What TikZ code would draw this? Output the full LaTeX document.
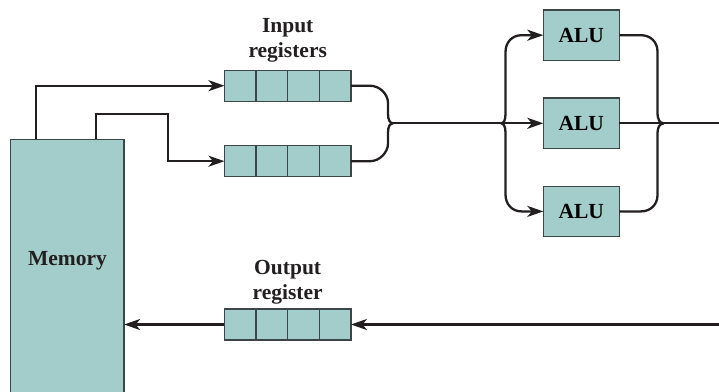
\documentclass[tikz,border=0pt]{standalone}
\usepackage{fontspec}
\setmainfont{Liberation Serif}
\usepackage{tikz}
\usetikzlibrary{arrows.meta, positioning, calc}
\definecolor{regteal}{HTML}{A2CDCB}
\definecolor{edgegray}{HTML}{3C4646}
\definecolor{wiregray}{HTML}{231F20}

\begin{document}
\begin{tikzpicture}[
  x=1pt, y=-1pt,
  font=\fontsize{21.5}{25.5}\selectfont\bfseries,
  unit/.style={rectangle, draw=edgegray, line width=1.3pt, fill=regteal,
    inner sep=0pt, outer sep=0pt},
  reg/.style={unit, minimum width=126.5pt, minimum height=31pt},
  alubox/.style={unit, minimum width=76pt, minimum height=50.5pt},
  lbl/.style={align=center, inner sep=0pt, text=wiregray},
  cellline/.style={draw=edgegray, line width=1.3pt},
  wire/.style={wiregray, line width=2.3pt},
  arr/.style={wire, -{Stealth[length=16pt, width=11pt, inset=4.5pt]}}]
  \useasboundingbox (0,0) rectangle (719,391);
  % memory and registers
  \node[unit, minimum width=113.4pt, minimum height=254pt] (mem) at (67.4,266.3) {};
  \node[lbl] (memtxt) at ([yshift=6pt]mem.center) {Memory};
  \node[reg] (in1) at (287.7,85.7) {};
  \node[reg] (in2) at (287.7,161.2) {};
  \node[reg] (out) at (287.7,324.5) {};
  \node[lbl, above=7.5pt of in1] (inlbl) {Input\\registers};
  \node[lbl, above=4.4pt of out] (outlbl) {Output\\register};
  \foreach \r in {in1,in2,out}
    \foreach \i in {1,2,3}
      \draw[cellline] ($(\r.north west)!\i/4!(\r.north east)$) -- ($(\r.south west)!\i/4!(\r.south east)$);
  % ALUs
  \node[alubox] (alu1) at (581.3,35.2) {ALU};
  \node[alubox] (alu2) at (581.3,123.3) {ALU};
  \node[alubox] (alu3) at (581.3,211.4) {ALU};
  % memory to input registers
  \coordinate (bend) at (168.3,114.3);
  \draw[arr] ([xshift=25.3pt]mem.north west) |- (in1.west);
  \draw[arr] ([xshift=85pt]mem.north west) |- (bend) |- (in2.west);
  % input registers join
  \coordinate (join) at (393,123.3);
  \coordinate (fork) at (501,123.3);
  \draw[wire] (in1.east) -- (370,85.7) .. controls (379.5,85.7) and (388,94) .. (388,103) -- (388,114)
    .. controls (388,120) and (390,123.3) .. (join);
  \draw[wire] (in2.east) -- (370,161.2) .. controls (379.5,161.2) and (388,152.5) .. (388,143.5) -- (388,132.5)
    .. controls (388,126.5) and (390,123.3) .. (join);
  \draw[wire] (join) -- (fork);
  % fork to ALUs
  \draw[arr] (fork) .. controls (503.5,123.3) and (505.5,120.5) .. (505.5,114) -- (505.5,52)
    .. controls (505.5,42.5) and (512,35.2) .. (521.5,35.2) -- (alu1.west);
  \draw[arr] (fork) -- (alu2.west);
  \draw[arr] (fork) .. controls (503.5,123.3) and (505.5,126.1) .. (505.5,132.6) -- (505.5,194.6)
    .. controls (505.5,204.1) and (512,211.4) .. (521.5,211.4) -- (alu3.west);
  % ALUs merge
  \coordinate (merge) at (664,123.3);
  \coordinate (exitR) at (719,123.3);
  \draw[wire] (alu1.east) -- (641,35.2) .. controls (650.5,35.2) and (657.5,42) .. (657.5,51.5) -- (657.5,112)
    .. controls (657.5,119.5) and (659.5,123.3) .. (merge);
  \draw[wire] (alu3.east) -- (641,211.4) .. controls (650.5,211.4) and (657.5,204.6) .. (657.5,195.1) -- (657.5,134.6)
    .. controls (657.5,127.1) and (659.5,123.3) .. (merge);
  \draw[wire] (alu2.east) -- (exitR);
  % output path
  \coordinate (entryR) at (719,324.5);
  \draw[arr] (entryR) -- (out.east);
  \draw[arr] (out.west) -- (mem.east |- out.west);
\end{tikzpicture}
\end{document}
